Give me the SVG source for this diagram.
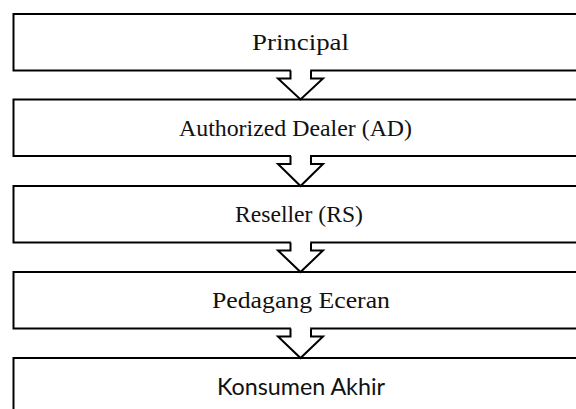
<svg xmlns="http://www.w3.org/2000/svg" width="576" height="409" viewBox="0 0 576 409">
<style>
.box{fill:#fff;stroke:#000;stroke-width:2}
.lbl{font-family:"Liberation Serif","Times New Roman",serif;font-size:24px;fill:#111;text-anchor:middle}
.sans{font-family:"Lato","Liberation Sans",sans-serif;font-size:23px;fill:#111;text-anchor:middle}
.arr{fill:#fff;stroke:#000;stroke-width:2;stroke-linejoin:miter}
.cover{fill:#fff;stroke:none}
</style>
<rect width="576" height="409" fill="#fff"/>
<g id="n1"><rect class="box" x="13.5" y="14" width="580" height="56.5"/><text class="lbl" x="300.5" y="50" textLength="97" lengthAdjust="spacingAndGlyphs">Principal</text></g>
<g id="n2"><rect class="box" x="13.5" y="99.5" width="580" height="56.5"/><text class="lbl" x="295.5" y="135.5" textLength="233" lengthAdjust="spacingAndGlyphs">Authorized Dealer (AD)</text></g>
<g id="n3"><rect class="box" x="13.5" y="186" width="580" height="56.5"/><text class="lbl" x="299" y="222" textLength="128" lengthAdjust="spacingAndGlyphs">Reseller (RS)</text></g>
<g id="n4"><rect class="box" x="13.5" y="272" width="580" height="56.5"/><text class="lbl" x="301" y="308" textLength="178" lengthAdjust="spacingAndGlyphs">Pedagang Eceran</text></g>
<g id="n5"><rect class="box" x="13.5" y="358" width="580" height="80"/><text class="sans" x="301" y="395" textLength="168" lengthAdjust="spacingAndGlyphs">Konsumen Akhir</text></g>
<g id="connectors">
<g transform="translate(0,70.5)"><rect class="cover" x="291" y="-2" width="19" height="4"/><path class="arr" d="M290.5,0 V8 H278 L300.5,29 L323,8 H311 V0"/></g>
<g transform="translate(0,156)"><rect class="cover" x="291" y="-2" width="19" height="4"/><path class="arr" d="M290.5,0 V8 H278 L300.5,30 L323,8 H311 V0"/></g>
<g transform="translate(0,242.5)"><rect class="cover" x="291" y="-2" width="19" height="4"/><path class="arr" d="M290.5,0 V8 H278 L300.5,29.5 L323,8 H311 V0"/></g>
<g transform="translate(0,328.5)"><rect class="cover" x="291" y="-2" width="19" height="4"/><path class="arr" d="M290.5,0 V8 H278 L300.5,29.5 L323,8 H311 V0"/></g>
</g>
</svg>
